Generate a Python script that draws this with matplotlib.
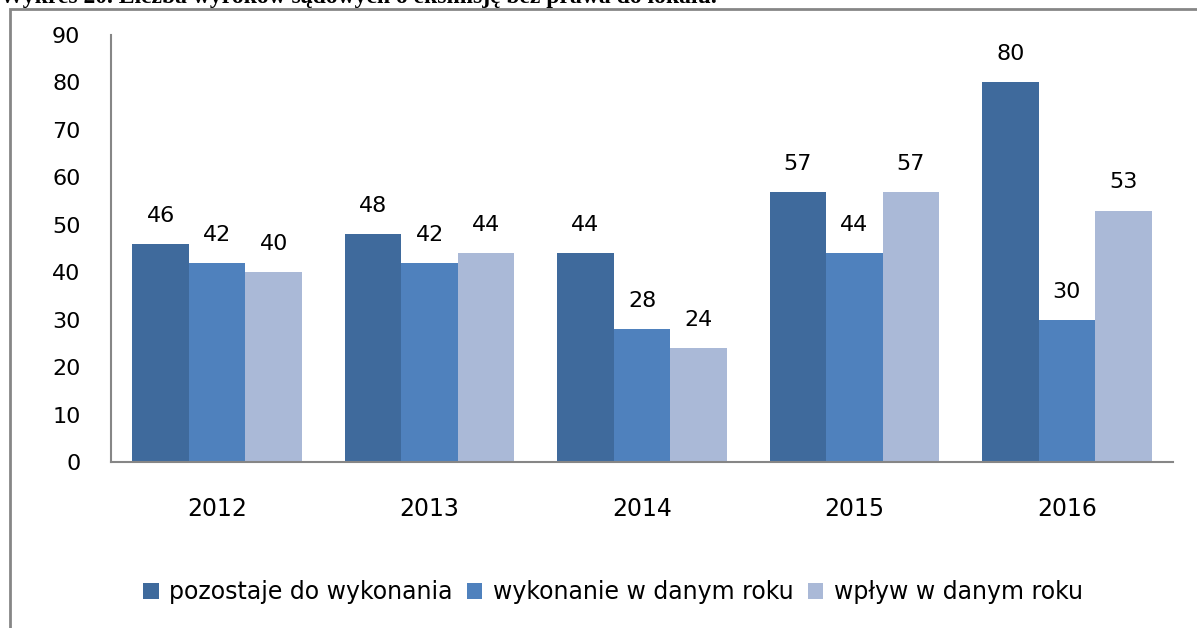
import matplotlib.pyplot as plt
import numpy as np
from matplotlib.patches import Rectangle

# dane
years = ['2012', '2013', '2014', '2015', '2016']
pozostaje = [46, 48, 44, 57, 80]
wykonanie = [42, 42, 28, 44, 30]
wplyw = [40, 44, 24, 57, 53]
series_names = ['pozostaje do wykonania', 'wykonanie w danym roku', 'wpływ w danym roku']
colors = ['#3F6A9C', '#4F81BD', '#AAB9D7']

plt.rcParams['font.family'] = 'DejaVu Sans'

fig = plt.figure(figsize=(11.97, 6.28), dpi=100)
ax = fig.add_axes([111 / 1197, 166 / 628, 1062 / 1197, 427 / 628])

x = np.arange(len(years))
w = 0.266
for k, (vals, name, c) in enumerate(zip([pozostaje, wykonanie, wplyw], series_names, colors)):
    bars = ax.bar(x + (k - 1) * w, vals, w, color=c, label=name, zorder=2)
    for b, v in zip(bars, vals):
        ax.annotate(str(v), (b.get_x() + b.get_width() / 2, v), xytext=(0, 13),
                    textcoords='offset points', ha='center', va='bottom', fontsize=16)

ax.set_xlim(-0.5, 4.5)
ax.set_ylim(0, 90)
ax.set_yticks(range(0, 91, 10))
ax.set_xticks(x)
ax.set_xticklabels(years)
ax.tick_params(axis='both', length=0, labelsize=16)
ax.tick_params(axis='x', labelsize=17, pad=25)
ax.tick_params(axis='y', pad=22)
for s in ['top', 'right']:
    ax.spines[s].set_visible(False)
for s in ['left', 'bottom']:
    ax.spines[s].set_color('#868686')
    ax.spines[s].set_linewidth(1.5)

ax.legend(loc='center', bbox_to_anchor=(613 / 1197, 1 - 592 / 628),
          bbox_transform=fig.transFigure, ncol=3, frameon=False, fontsize=17,
          handlelength=0.65, handleheight=0.65, handletextpad=0.45, columnspacing=0.6)

# ramka wykresu
fig.patches.append(Rectangle((10 / 1197, -0.1), 1.2, 1 - 9 / 628 + 0.1,
                             transform=fig.transFigure, fill=False,
                             edgecolor='#868686', linewidth=2))

# tytul (ucięty u góry, jak w oryginale)
fig.text(0.0, 1 - 3 / 628, 'Wykres 20. Liczba wyroków sądowych o eksmisję bez prawa do lokalu.',
         family='Liberation Serif', fontsize=17, fontweight='bold', va='baseline', ha='left')

fig.savefig('out.png', dpi=100)
